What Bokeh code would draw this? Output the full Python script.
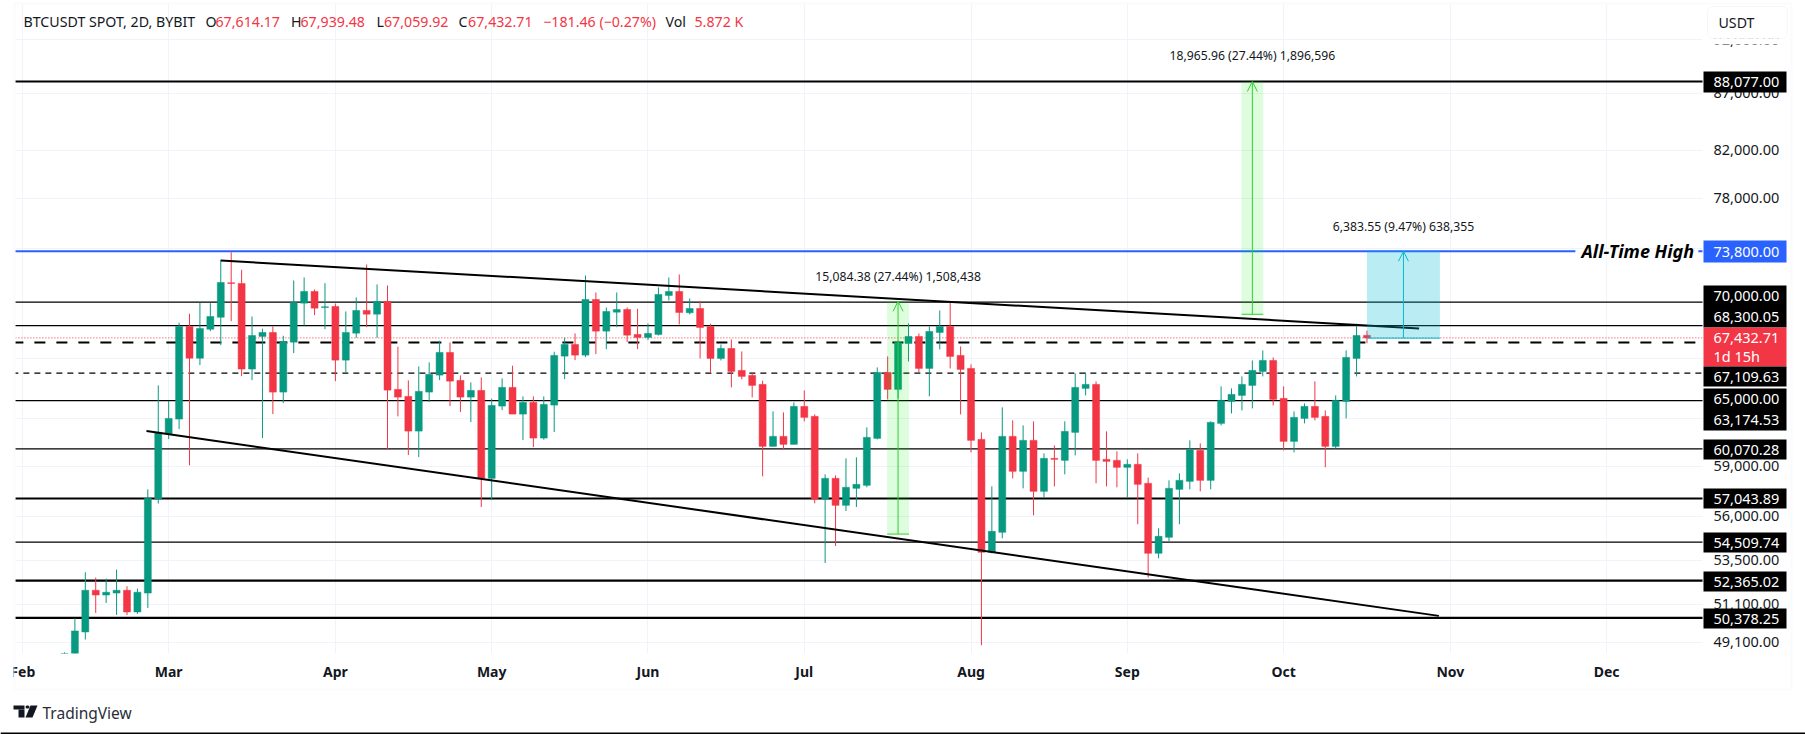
from bokeh.plotting import figure
from bokeh.layouts import column
from bokeh.models import (Label, BoxAnnotation, Range1d, FixedTicker, NumeralTickFormatter,
                          Arrow, OpenHead, PolyAnnotation)
from bokeh.embed import file_html
from bokeh.resources import INLINE

START_INDEX = 4
OPENS = [47950,48200,49642,51844,51590,51694,51844,50687,51694,57014,61031,61965,68242,66027,68050,68906,71419,71367,65276,67535,67817,63732,67134,69918,70775,69605,69677,65890,67767,69387,69120,70041,63911,63447,61195,63732,64870,66420,64512,63401,63844,58256,62810,64044,62288,63052,60752,62875,66165,66974,66234,70188,67909,69265,69460,67675,67465,67675,70481,70775,69221,69533,68242,66007,66697,65187,64850,64245,60229,60859,60355,62790,62140,57014,58256,56641,57653,57833,60733,65052,63911,67045,67535,65323,67817,68242,66213,65323,60670,53936,55071,60859,58682,60606,57473,59481,59357,61113,63978,64245,59419,59357,58927,59111,57953,53880,54785,57592,58074,59978,58134,61688,63117,63513,64178,65119,65869,63315,60543,62010,62790,62140,60229,63117,66007,67614.17]
HIGHS = [48600,50355,52824,52534,52479,52973,52061,51936,57592,64178,63137,68506,69150,69947,69918,73148,73730,72391,68955,68079,68242,67584,71589,71813,70922,71390,69896,69315,70334,72792,71292,71218,66815,64512,65460,65732,67233,67115,64850,64378,64714,63296,64647,65508,63447,63447,63447,66468,67443,67747,71963,70700,69605,70700,69605,69510,68456,71070,71813,72038,70261,70041,68435,66974,67324,66489,65052,64492,62463,62398,63052,63844,62270,58499,58438,59481,59543,61432,65391,66145,67254,68456,67747,68242,69387,70041,66836,65596,61113,57773,62725,61881,61560,61817,59792,60292,61817,64985,65052,64445,61176,59916,59419,59792,58298,55301,58134,58560,60606,60417,61817,64111,63978,64782,65869,66558,66076,64111,62463,62986,64445,62528,63513,66558,68435,67939.48]
LOWS = [47800,47700,49251,50634,51165,50529,50529,50582,50898,56741,60688,61323,59050,65548,67909,66927,68619,64800,64532,60752,62288,63007,66371,68313,69050,68050,64465,65071,67443,68192,67443,60022,62140,59686,59562,63072,64532,62810,62419,61773,56540,56977,62548,62288,60625,60185,60650,61133,64600,65890,66096,66303,66648,68192,67134,66648,67275,67605,70114,68384,69100,66007,65052,65869,64044,64580,63381,58377,60229,60022,60355,61817,56759,53338,54291,56305,56540,57713,60670,63249,63315,65800,65052,63447,66627,65323,62270,59854,48960,53880,54728,58256,57652,56055,57114,57773,58499,59668,63513,57953,57773,57713,57114,55532,52534,53600,54557,55532,57592,57473,57592,61560,62333,62528,62659,64782,62855,59978,59854,61688,61881,58927,60103,62010,64782,67059.92]
CLOSES = [48450,49694,51844,51590,51737,51844,50687,51737,57055,61113,62010,68242,66027,68100,68955,71441,71367,65276,67605,67817,63732,67184,69967,70775,69554,69656,65890,67817,69387,69120,70041,63864,63401,61195,63778,64917,66420,64465,63401,63844,58256,62855,64044,62288,63052,60752,62920,66213,66974,66234,70188,67909,69315,69460,67626,67465,67747,70555,70775,69243,69533,68171,66007,66697,65119,64782,64178,60229,60859,60355,62790,62075,57014,58256,56641,57713,57893,60796,65052,63911,67115,67535,65323,67887,68242,66145,65255,60606,53936,55128,60859,58682,60606,57473,59481,59419,61176,64044,64245,59357,59296,58927,59111,57893,53880,54842,57652,58134,60022,58134,61752,63183,63579,64245,65187,65869,63249,60543,62075,62790,62075,60229,63183,66076,67605,67432.71]

MONTH_LABELS = ["Feb", "Mar", "Apr", "May", "Jun", "Jul", "Aug", "Sep", "Oct", "Nov", "Dec"]
MONTH_BARS = [0, 14, 30, 45, 60, 75, 91, 106, 121, 137, 152]
PRICE_TICKS = [92000, 87000, 82000, 78000, 74000, 70000, 66000, 62000, 59000, 56000, 53500, 51100, 49100]

THICK_LEVELS = [88077.00, 57043.89, 52365.02, 50378.25]
THIN_LEVELS = [70000.00, 68300.05, 63174.53, 60070.28, 54509.74]
DASH_THICK_LEVEL = 67109.63
DASH_THIN_LEVEL = 65000.00
ATH_LEVEL = 73800.00
LAST_PRICE = 67432.71

UPPER_TREND_X = [19.0, 134.0]
UPPER_TREND_Y = [73095, 68100]
LOWER_TREND_X = [11.87, 135.9]
LOWER_TREND_Y = [61195, 50480]

RANGE_LEFT = [82.95, 116.95, 129.0]
RANGE_RIGHT = [85.05, 119.05, 136.0]
RANGE_LOW = [54970.0, 69111.0, 67416.45]
RANGE_HIGH = [70054.38, 88077.0, 73800.0]
RANGE_TEXT = ["15,084.38 (27.44%) 1,508,438", "18,965.96 (27.44%) 1,896,596", "6,383.55 (9.47%) 638,355"]

TAG_TEXT = ["88,077.00", "73,800.00", "70,000.00", "68,300.05", "67,432.71", "1d 15h", "67,109.63", "65,000.00",
            "63,174.53", "60,070.28", "57,043.89", "54,509.74", "52,365.02", "50,378.25"]

W, H = 1805, 734
F_L, F_R, F_T, F_B = 15, 1702, 4, 653
FONT = "Noto Sans"
INK = "#131722"
UP, DOWN = "#089981", "#f23645"

p = figure(width=W, height=H, output_backend="svg", toolbar_location=None, y_axis_type="log",
           y_axis_location="right", x_range=Range1d(-0.70, 161.2), y_range=Range1d(48540, 95433),
           min_border_left=F_L, min_border_right=W - F_R, min_border_top=F_T, min_border_bottom=H - F_B,
           background_fill_color="white", border_fill_color="white", outline_line_color=None,
           frame_align=False)

p.xaxis.ticker = FixedTicker(ticks=MONTH_BARS)
p.xaxis.major_label_overrides = dict(zip(MONTH_BARS, MONTH_LABELS))
p.yaxis.ticker = FixedTicker(ticks=PRICE_TICKS)
p.yaxis.formatter = NumeralTickFormatter(format="0,0.00")
for ax in (p.xaxis[0], p.yaxis[0]):
    ax.axis_line_color = None
    ax.major_tick_line_color = None
    ax.minor_tick_line_color = None
    ax.major_tick_in = 0
    ax.major_tick_out = 0
    ax.major_label_text_font = FONT
    ax.major_label_text_color = INK
    ax.major_label_text_font_size = "14.5px"
p.yaxis[0].major_label_standoff = 11
p.xaxis[0].major_label_standoff = 8
p.xaxis[0].major_label_text_font_style = "bold"
p.xaxis[0].major_label_text_font_size = "14px"
p.xgrid.ticker = FixedTicker(ticks=MONTH_BARS)
p.ygrid.ticker = FixedTicker(ticks=PRICE_TICKS)
p.xgrid.grid_line_color = "#f0f3fa"
p.ygrid.grid_line_color = "#f0f3fa"
p.xgrid.grid_line_width = 1
p.ygrid.grid_line_width = 1

xe = [-1, 162]
for lv in THICK_LEVELS:
    p.line(xe, [lv, lv], line_color="black", line_width=2.2)
for lv in THIN_LEVELS:
    p.line(xe, [lv, lv], line_color="black", line_width=1.3)
p.line(xe, [DASH_THICK_LEVEL] * 2, line_color="black", line_width=2.2, line_dash=[11, 11])
p.line(xe, [DASH_THIN_LEVEL] * 2, line_color="black", line_width=1.2, line_dash=[6, 5])
p.line([-1, 149], [ATH_LEVEL] * 2, line_color="#2962ff", line_width=2)
p.line([160.8, 162], [ATH_LEVEL] * 2, line_color="#2962ff", line_width=2)
p.line(xe, [LAST_PRICE] * 2, line_color=DOWN, line_width=1, line_dash=[1, 2])

xs = [START_INDEX + i for i in range(len(OPENS))]
colors = [UP if c >= o else DOWN for o, c in zip(OPENS, CLOSES)]
p.segment(xs, LOWS, xs, HIGHS, line_color=colors, line_width=1)
p.vbar(x=xs, width=0.67, bottom=[min(a, b) for a, b in zip(OPENS, CLOSES)],
       top=[max(a, b) for a, b in zip(OPENS, CLOSES)], fill_color=colors, line_color=colors, line_width=0.5)

p.line(UPPER_TREND_X, UPPER_TREND_Y, line_color="black", line_width=2)
p.line(LOWER_TREND_X, LOWER_TREND_Y, line_color="black", line_width=2)

# transparent layer over the chart, one unit per pixel: price tags, header and frame
chrome = figure(width=W, height=H, output_backend="svg", toolbar_location=None, x_axis_type=None, y_axis_type=None,
                x_range=Range1d(0, W), y_range=Range1d(H, 0), min_border=0, outline_line_color=None,
                background_fill_alpha=0, border_fill_alpha=0, margin=(-H, 0, 0, 0), frame_align=False)
chrome.grid.visible = False


def label(x, y, text, **kw):
    kw.setdefault("text_font", FONT)
    kw.setdefault("text_font_size", "14.2px")
    kw.setdefault("text_color", INK)
    kw.setdefault("text_baseline", "middle")
    chrome.add_layout(Label(x=x, y=y, text=text, **kw))


def box(l, r, t, b, **kw):
    kw.setdefault("line_color", None)
    kw.setdefault("fill_alpha", 1)
    chrome.add_layout(BoxAnnotation(left=l, right=r, top=t, bottom=b, **kw))


RANGE_FILL = ["#00e600", "#00e600", "#00bcd4"]
RANGE_ALPHA = [0.13, 0.13, 0.27]
RANGE_LINE = ["#2bd42b", "#2bd42b", "#00bcd4"]
RANGE_TEXT_Y = [276, 55, 226]
for i in range(3):
    mid = (RANGE_LEFT[i] + RANGE_RIGHT[i]) / 2
    p.quad(left=[RANGE_LEFT[i]], right=[RANGE_RIGHT[i]], bottom=[RANGE_LOW[i]], top=[RANGE_HIGH[i]],
           fill_color=RANGE_FILL[i], fill_alpha=RANGE_ALPHA[i], line_color=None)
    p.line([RANGE_LEFT[i], RANGE_RIGHT[i]], [RANGE_LOW[i]] * 2, line_color=RANGE_LINE[i], line_width=1)
    p.add_layout(Arrow(end=OpenHead(size=10, line_color=RANGE_LINE[i], line_width=1), line_color=RANGE_LINE[i],
                       line_width=1, x_start=mid, x_end=mid, y_start=RANGE_LOW[i], y_end=RANGE_HIGH[i]))
    label(22.3 + 10.42 * mid, RANGE_TEXT_Y[i], RANGE_TEXT[i], text_align="center", text_font_size="12.2px")

# price tags
box(1703, 1786, 71, 92, fill_color="black")
box(1703, 1786, 240, 262, fill_color="#2962ff")
box(1703, 1786, 285, 327, fill_color="black")
box(1703, 1786, 327, 366, fill_color=DOWN)
box(1703, 1786, 366, 386, fill_color="black")
box(1703, 1786, 388, 430, fill_color="black")
box(1703, 1786, 439, 459, fill_color="black")
box(1703, 1786, 488, 508, fill_color="black")
box(1703, 1786, 532, 552, fill_color="black")
box(1703, 1786, 571, 591, fill_color="black")
box(1703, 1786, 608, 628, fill_color="black")
TAG_Y = [81, 251, 295, 316, 337, 355, 376, 398, 419, 449, 498, 542, 581, 618]
for t, y in zip(TAG_TEXT, TAG_Y):
    label(1713, y, t, text_color="white", text_font_size="14.5px")

label(1581, 250, "All-Time High", text_color="black", text_font_style="bold italic", text_font_size="18px")

# header
box(1703, 1790, 38, 44, fill_color="white")
box(1707, 1787, 6, 38, fill_color="white", line_color="#e0e3eb", line_width=1, border_radius=5)
label(1718, 22, "USDT")
label(23, 21, "BTCUSDT SPOT, 2D, BYBIT")
for x, t, col in [(205, "O", INK), (215, "67,614.17", DOWN), (290.5, "H", INK), (300, "67,939.48", DOWN),
                  (376, "L", INK), (383.5, "67,059.92", DOWN), (458, "C", INK), (467.6, "67,432.71", DOWN),
                  (542.7, "−181.46 (−0.27%)", DOWN), (665, "Vol", INK), (694, "5.872 K", DOWN)]:
    label(x, 21, t, text_color=col)

# frame and footer
box(0, 13, 655, 688, fill_color="white")
box(14, 1791, 3, 689, fill_color=None, fill_alpha=0, line_color="#f0f3fa", line_width=2)
box(0, W, 732, 734, fill_color="black")
label(42, 712, "TradingView", text_font_size="15.5px", text_color="#2a2e39")
box(13, 24, 705, 709, fill_color="#131722")
box(18, 24, 709, 717, fill_color="#131722")
box(25, 29, 705, 708, fill_color="#131722", border_radius=2)
chrome.add_layout(PolyAnnotation(xs=[30, 37, 32, 25], ys=[705, 705, 717, 717],
                                 fill_color="#131722", fill_alpha=1, line_color=None))

open("out.html", "w").write(file_html(column(p, chrome, spacing=0), INLINE))
